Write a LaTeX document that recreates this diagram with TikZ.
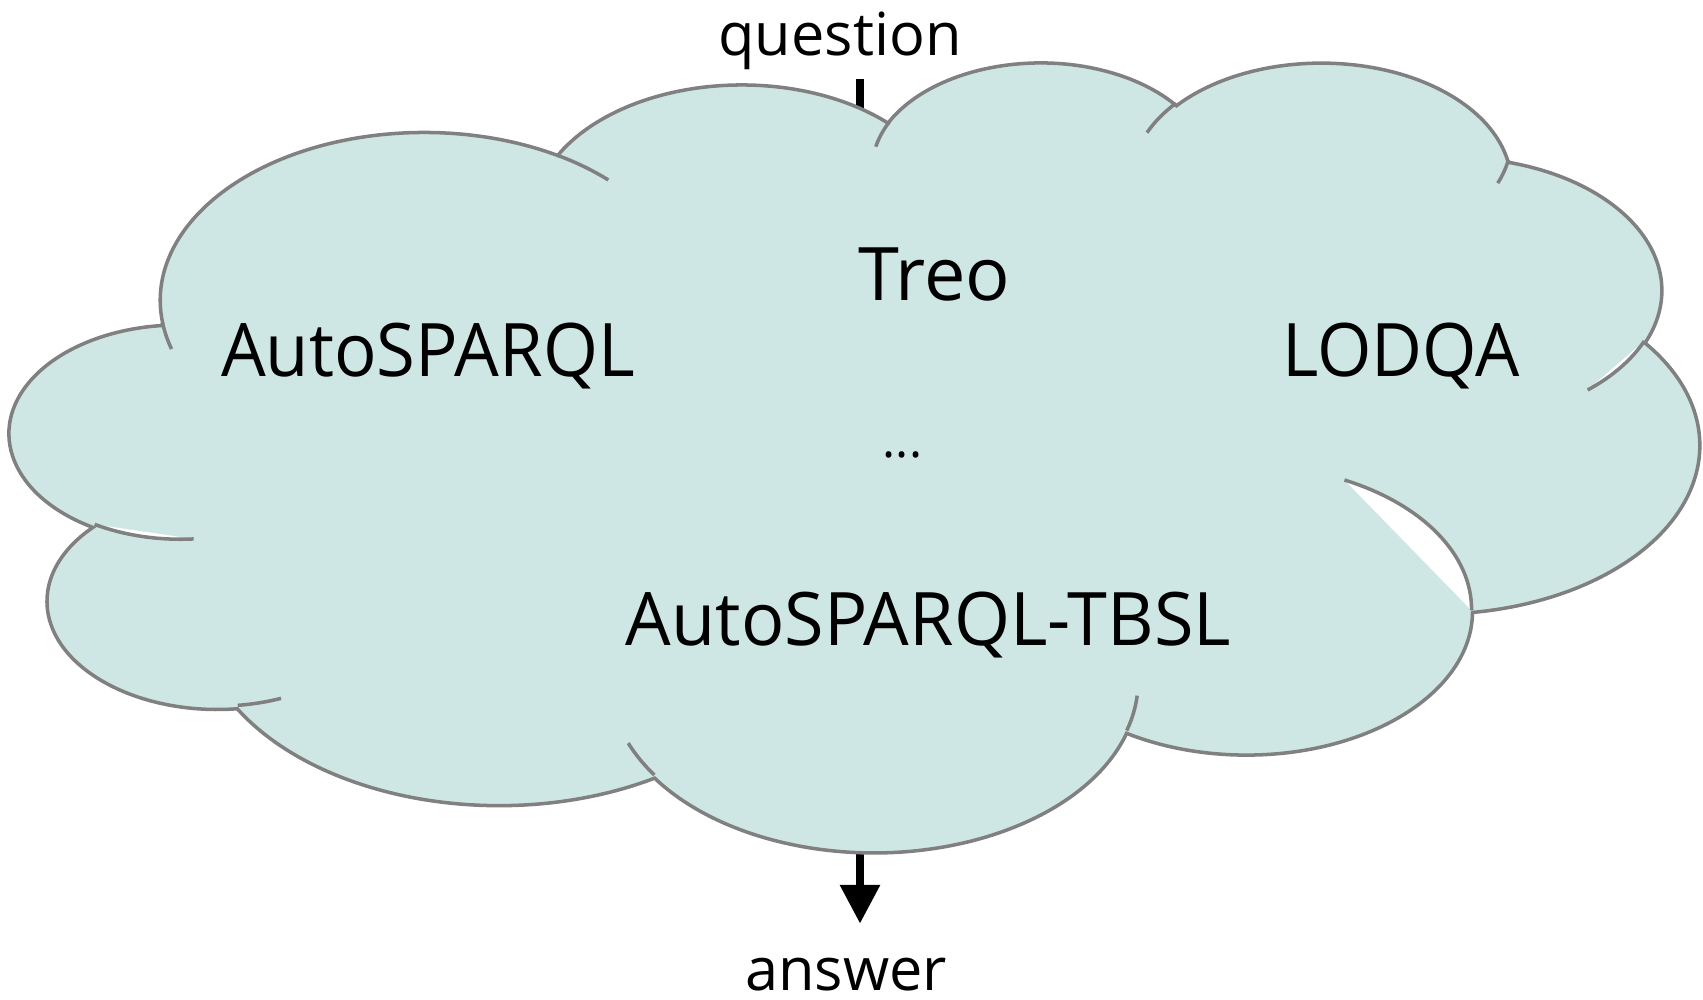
\documentclass[tikz,border=0pt]{standalone}
\usepackage{fontspec}
\setmainfont{Open Sans}
\usepackage{graphicx}
\usepackage{tikz}
\usetikzlibrary{arrows.meta}

\definecolor{cloudfill}{RGB}{207,231,228}
\definecolor{cloudline}{RGB}{128,128,128}

\begin{document}
\begin{tikzpicture}[x=0.01cm,y=-0.01cm,
    system/.style={font=\fontsize{21}{25}\selectfont,anchor=base,inner sep=0pt},
    io/.style={font=\fontsize{16.9}{20}\selectfont,anchor=base,inner xsep=0pt,inner ysep=2.5pt},
    flow/.style={line width=2.1pt},
    seam/.style={draw=cloudline,line width=1pt}]

    \useasboundingbox (0,0) rectangle (1703,1000);

    % question in, answer out
    \node[io] (question) at (840,55) {question};
    \node[io] (answer) at (846,990) {answer};
    \coordinate (qin) at (860,140);
    \coordinate (aout) at (860,850);
    \draw[flow] (question.south -| qin) -- (qin);
    \draw[flow,-{Triangle[width=11pt,length=11pt]},shorten >=7pt] (aout) -- (answer.north -| aout);

    % the cloud, lobe by lobe
    \begin{scope}[shift={(10.2,60.4)},xscale=3.9094,yscale=1.828]
        \filldraw[fill=cloudfill,seam] (39.00,143.70)
            arc[x radius=67.53,y radius=91.90,start angle=172.25,end angle=300.36]
            arc[x radius=53.33,y radius=72.67,start angle=-152.03,end angle=-45.46]
            arc[x radius=43.65,y radius=59.45,start angle=-153.49,end angle=-37.31]
            arc[x radius=48.57,y radius=65.95,start angle=-139.73,end angle=-10.21]
            arc[x radius=53.33,y radius=72.73,start angle=-74.77,end angle=23.21]
            arc[x radius=67.75,y radius=92.20,start angle=-37.52,end angle=81.85]
            arc[x radius=57.85,y radius=78.67,start angle=0.46,end angle=121.97]
            arc[x radius=67.52,y radius=92.15,start angle=16.85,end angle=146.22]
            arc[x radius=77.20,y radius=105.43,start angle=58.99,end angle=150.19]
            arc[x radius=43.60,y radius=59.18,start angle=83.31,end angle=223.08]
            arc[x radius=43.45,y radius=59.45,start angle=120.36,end angle=264.11]
            -- cycle;

        \foreach \sx/\sy/\rx/\ry/\sa/\ea in {46.93/261.77/43.45/59.45/85.55/120.36,
                341.29/229.54/57.85/78.67/-64.03/0.46,
                417.98/153.54/53.33/72.73/23.21/49.64}
            \fill[white] (\sx,\sy) arc[x radius=\rx,y radius=\ry,start angle=\sa,end angle=\ea] -- cycle;

        \foreach \sx/\sy/\rx/\ry/\sa/\ea in {46.93/261.77/43.45/59.45/85.55/120.36,
                69.28/348.99/43.60/59.18/68.23/83.31,
                164.78/390.90/67.52/92.15/146.22/158.47,
                288.27/347.51/67.52/92.15/4.74/16.85,
                341.29/229.54/57.85/78.67/-64.03/0.46,
                417.98/153.54/53.33/72.73/23.21/49.64,
                383.24/54.26/48.57/65.95/10.21/21.88,
                290.78/39.52/48.57/65.95/-156.29/-139.73,
                221.41/47.20/43.65/59.45/-167.73/-153.49,
                140.00/51.92/67.53/91.90/-59.64/-45.73,
                41.27/157.89/67.53/91.90/163.19/172.25}
            \draw[seam] (\sx,\sy) arc[x radius=\rx,y radius=\ry,start angle=\sa,end angle=\ea];
    \end{scope}

    \node[system] (autosparql) at (428,376) {\scalebox{0.957}[1]{AutoSPARQL}};
    \node[system] (treo) at (934.5,300) {Treo};
    \node[system] (lodqa) at (1401,376) {\scalebox{0.947}[1]{LODQA}};
    \node[system] (tbsl) at (928.5,645) {\scalebox{0.975}[1]{AutoSPARQL-TBSL}};
    \node[system,font=\fontsize{14}{17}\selectfont] (more) at (902.5,457) {...};

\end{tikzpicture}
\end{document}
